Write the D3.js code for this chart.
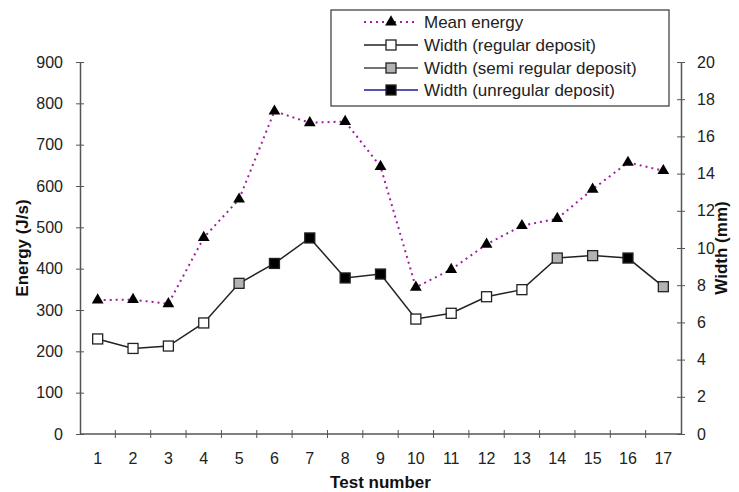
<!DOCTYPE html>
<html><head><meta charset="utf-8">
<script src="https://cdn.jsdelivr.net/npm/d3@7"></script>
<style>
body{margin:0;background:#fff;}
svg{display:block;font-family:"Liberation Sans",Arial,sans-serif;}
</style></head>
<body>
<svg id="c" width="739" height="492"></svg>
<script>
const tests = [1,2,3,4,5,6,7,8,9,10,11,12,13,14,15,16,17];
const energy = [324,325,315,475,568,781,753,756,647,355,398,459,504,521,592,657,637];
const width = [5.11,4.60,4.73,5.97,8.10,9.17,10.54,8.39,8.60,6.18,6.49,7.38,7.76,9.46,9.59,9.46,7.92];
const depositType = ["regular","regular","regular","regular","semi","unregular","unregular","unregular","unregular","regular","regular","regular","regular","semi","semi","unregular","semi"];
const energyTicks = [0,100,200,300,400,500,600,700,800,900];
const widthTicks = [0,2,4,6,8,10,12,14,16,18,20];
const legendLabels = ["Mean energy","Width (regular deposit)","Width (semi regular deposit)","Width (unregular deposit)"];

const svg = d3.select("#c");
const L = 80, R = 681, T = 62, B = 434;
const x = d3.scaleBand().domain(tests).range([L, R]);
const yE = d3.scaleLinear().domain([0,900]).range([B, T]);
const yW = d3.scaleLinear().domain([0,20]).range([B, T]);
const fillOf = {regular:"#ffffff", semi:"#b3b3b3", unregular:"#000000"};
const axisColor = "#555";
const tickFont = 16, titleFont = 17, legendFont = 17;

// Left axis
const gl = svg.append("g").attr("transform",`translate(${L},0)`)
  .call(d3.axisLeft(yE).tickValues(energyTicks).tickSizeInner(4).tickSizeOuter(0).tickPadding(13));
gl.selectAll(".tick line").attr("x2",4).attr("x1",-4);
// Right axis
const gr = svg.append("g").attr("transform",`translate(${R},0)`)
  .call(d3.axisRight(yW).tickValues(widthTicks).tickSizeInner(4).tickSizeOuter(0).tickPadding(12));
gr.selectAll(".tick line").attr("x1",-4).attr("x2",4);
// Bottom axis with boundary ticks
const gb = svg.append("g").attr("transform",`translate(0,${B})`)
  .call(d3.axisBottom(x).tickSize(0).tickPadding(19));
const bounds = tests.slice(0, -1).map(t => x(t) + x.bandwidth());
gb.selectAll(".btick").data(bounds).enter().append("line")
  .attr("x1", d=>d).attr("x2", d=>d).attr("y1",-4).attr("y2",4)
  .attr("stroke", axisColor);

[gl,gr,gb].forEach(g=>{
  g.select(".domain").attr("stroke", axisColor).attr("stroke-width",1.5);
  g.selectAll(".tick line").attr("stroke", axisColor);
  g.selectAll("text").attr("font-size",tickFont).attr("fill","#222").style("font-family","Liberation Sans, Arial, sans-serif");
});
gb.select(".domain").attr("d", `M${L},0H${R}`);

// Axis titles
svg.append("text").attr("transform",`translate(28,${(T+B)/2}) rotate(-90)`)
  .attr("text-anchor","middle").attr("font-size",titleFont).attr("font-weight","bold").attr("fill","#111")
  .text("Energy (J/s)");
svg.append("text").attr("transform",`translate(727,${(T+B)/2}) rotate(-90)`)
  .attr("text-anchor","middle").attr("font-size",titleFont).attr("font-weight","bold").attr("fill","#111")
  .text("Width (mm)");
svg.append("text").attr("x",(L+R)/2).attr("y",488)
  .attr("text-anchor","middle").attr("font-size",titleFont).attr("font-weight","bold").attr("fill","#111")
  .text("Test number");

const cx = t => x(t) + x.bandwidth()/2;
const tri = d3.symbol().type(d3.symbolTriangle).size(60);

// Energy line
svg.append("path").datum(energy)
  .attr("d", d3.line().x((d,i)=>cx(tests[i])).y(d=>yE(d)))
  .attr("fill","none").attr("stroke","#a01fa0").attr("stroke-width",2).attr("stroke-dasharray","2,4");
svg.selectAll(".tri").data(energy).enter().append("path")
  .attr("d", tri).attr("transform",(d,i)=>`translate(${cx(tests[i])},${yE(d)})`).attr("fill","#000");

// Width line
svg.append("path").datum(width)
  .attr("d", d3.line().x((d,i)=>cx(tests[i])).y(d=>yW(d)))
  .attr("fill","none").attr("stroke","#222").attr("stroke-width",1.5);
svg.selectAll(".sq").data(width).enter().append("rect")
  .attr("x",(d,i)=>cx(tests[i])-5).attr("y",d=>yW(d)-5).attr("width",10).attr("height",10)
  .attr("fill",(d,i)=>fillOf[depositType[i]]).attr("stroke","#222").attr("stroke-width",1.3);

// Legend
const lg = svg.append("g");
lg.append("rect").attr("x",331).attr("y",10).attr("width",338).attr("height",96)
  .attr("fill","#fff").attr("stroke","#444").attr("stroke-width",1.3);
const rowY = [22,45,68,90];
const lineColors = ["#a01fa0","#222","#444","#1a1a9a"];
legendLabels.forEach((lab,i)=>{
  const y = rowY[i];
  const ln = lg.append("line").attr("x1",364).attr("x2",418).attr("y1",y).attr("y2",y)
    .attr("stroke",lineColors[i]).attr("stroke-width", i===0?1.8:1.5);
  if(i===0){
    ln.attr("stroke-dasharray","2,4");
    lg.append("path").attr("d",tri).attr("transform",`translate(391,${y})`).attr("fill","#000");
  } else {
    const f = [null,"#fff","#b3b3b3","#000"][i];
    lg.append("rect").attr("x",386).attr("y",y-5).attr("width",10).attr("height",10)
      .attr("fill",f).attr("stroke","#222").attr("stroke-width",1.3);
  }
  lg.append("text").attr("x",424).attr("y",y+6).attr("font-size",legendFont).attr("fill","#222").text(lab);
});
</script>
</body></html>
